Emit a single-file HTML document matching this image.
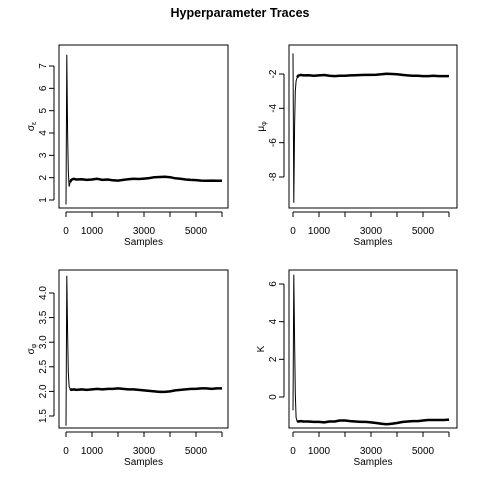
<!DOCTYPE html>
<html><head><meta charset="utf-8"><style>
body{margin:0;background:#fff;}
svg{display:block;font-family:"Liberation Sans",sans-serif;}
</style></head><body>
<svg id="c" width="480" height="480" viewBox="0 0 480 480">
<text x="240" y="17" text-anchor="middle" font-size="12.5" font-weight="bold">Hyperparameter Traces</text>
</svg>
<script>
// data (sample index, value) for each hyperparameter trace
const sampleX = [0,30,60,90,120,160,200,300,400,600,800,1000,1200,1400,1600,1800,2000,2200,2400,2600,2800,3000,3200,3400,3600,3800,4000,4200,4400,4600,4800,5000,5200,5400,5600,5800,6000];
const sigmaEps = [0.8,7.5,4.0,2.3,1.6,1.8,1.9,1.95,1.92,1.93,1.9,1.92,1.95,1.9,1.92,1.88,1.87,1.9,1.93,1.95,1.94,1.96,1.98,2.02,2.03,2.04,2.02,1.97,1.95,1.92,1.9,1.89,1.87,1.86,1.87,1.86,1.86];
const muPhi = [-0.8,-9.5,-5.0,-3.0,-2.4,-2.2,-2.1,-2.05,-2.08,-2.07,-2.1,-2.08,-2.06,-2.1,-2.12,-2.1,-2.1,-2.08,-2.07,-2.06,-2.05,-2.05,-2.04,-2.02,-1.98,-2.0,-2.02,-2.05,-2.08,-2.1,-2.1,-2.12,-2.12,-2.1,-2.12,-2.12,-2.12];
const sigmaPhi = [1.3,4.35,3.2,2.4,2.1,2.05,2.03,2.04,2.03,2.04,2.03,2.04,2.05,2.04,2.05,2.05,2.06,2.05,2.04,2.04,2.03,2.02,2.01,2.0,1.99,1.99,2.0,2.02,2.03,2.04,2.05,2.05,2.06,2.06,2.05,2.06,2.06];
const kappa = [-0.7,6.5,3.0,0.2,-1.1,-1.3,-1.3,-1.28,-1.3,-1.3,-1.32,-1.32,-1.35,-1.3,-1.3,-1.25,-1.25,-1.28,-1.3,-1.32,-1.32,-1.35,-1.38,-1.42,-1.45,-1.42,-1.38,-1.33,-1.3,-1.28,-1.28,-1.25,-1.22,-1.22,-1.22,-1.22,-1.2];
const xTicks = [0,1000,2000,3000,4000,5000,6000];
const xTickLabels = ["0","1000","","3000","","5000",""];
const ticks1 = [1,2,3,4,5,6,7];
const ticks2 = [-8,-6,-4,-2];
const ticks3 = [1.5,2.0,2.5,3.0,3.5,4.0];
const tickLabels3 = ["1.5","2.0","2.5","3.0","3.5","4.0"];
const ticks4 = [0,2,4,6];

const NS="http://www.w3.org/2000/svg";
const svg=document.getElementById('c');
function mk(tag,attrs,parent){const e=document.createElementNS(NS,tag);for(const k in attrs)e.setAttribute(k,attrs[k]);(parent||svg).appendChild(e);return e;}

const panels=[
 {name:'sigma-eps',box:[59,45,228,208],x0:66,x1:222,yv:[1,7],yp:[200,66],vals:sigmaEps,ticks:ticks1,labels:ticks1.map(String),lab:'σ',sub:'ε'},
 {name:'mu-phi',box:[289,45,457,208],x0:293,x1:449,yv:[-8,-2],yp:[177,74],vals:muPhi,ticks:ticks2,labels:ticks2.map(String),lab:'μ',sub:'φ'},
 {name:'sigma-phi',box:[59,270,228,428],x0:66,x1:222,yv:[1.5,4.0],yp:[416,293],vals:sigmaPhi,ticks:ticks3,labels:tickLabels3,lab:'σ',sub:'φ'},
 {name:'kappa',box:[289,270,457,428],x0:293,x1:449,yv:[0,6],yp:[397,284],vals:kappa,ticks:ticks4,labels:ticks4.map(String),lab:'K',sub:''}
];

panels.forEach(p=>{
 const g=mk('g',{});
 
 
 const [l,t,r,b]=p.box;
 const xs=v=>p.x0+(v-0)/6000*(p.x1-p.x0);
 const ys=v=>p.yp[0]+(v-p.yv[0])/(p.yv[1]-p.yv[0])*(p.yp[1]-p.yp[0]);
 let d='';
 sampleX.forEach((x,i)=>{d+=(i?'L':'M')+xs(x).toFixed(1)+','+ys(p.vals[i]).toFixed(1);});
 const early=mk('path',{d:d,fill:'none',stroke:'#000','stroke-width':'1'},g);
 
 
 let d2='';
 sampleX.forEach((x,i)=>{if(i>=5)d2+=(i>5?'L':'M')+xs(x).toFixed(1)+','+ys(p.vals[i]).toFixed(1);});
 const thick=mk('path',{d:d2,fill:'none',stroke:'#000','stroke-width':'2.5','stroke-linejoin':'round'},g);
 
 
 const box=mk('rect',{x:l,y:t,width:r-l,height:b-t,fill:'none',stroke:'#000','stroke-width':'1'},g);
 
 
 // x axis
 mk('line',{x1:xs(0),x2:xs(6000),y1:b+4,y2:b+4,stroke:'#000'},g);
 xTicks.forEach((v,i)=>{
  mk('line',{x1:xs(v),x2:xs(v),y1:b+4,y2:b+9,stroke:'#000'},g);
  if(xTickLabels[i]){const tx=mk('text',{x:xs(v),y:b+26,'text-anchor':'middle','font-size':'10'},g);tx.textContent=xTickLabels[i];
   
   }
 });
 const xl=mk('text',{x:(l+r)/2,y:b+37,'text-anchor':'middle','font-size':'10'},g);
 xl.textContent='Samples';
 
 
 // y axis
 const ya=l-5;
 mk('line',{x1:ya,x2:ya,y1:ys(p.ticks[0]),y2:ys(p.ticks[p.ticks.length-1]),stroke:'#000'},g);
 p.ticks.forEach((v,i)=>{
  const y=ys(v);
  mk('line',{x1:ya-5,x2:ya,y1:y,y2:y,stroke:'#000'},g);
  const tx=mk('text',{x:ya-8,y:y,'text-anchor':'middle','font-size':'10',transform:`rotate(-90 ${ya-8} ${y})`},g);
  tx.textContent=p.labels[i];
  
  
 });
 const cx=l-25, cy=(t+b)/2;
 const yl=mk('text',{x:cx,y:cy,'text-anchor':'middle','font-size':'10',transform:`rotate(-90 ${cx} ${cy})`},g);
 yl.textContent=p.lab;
 if(p.sub){const s=mk('tspan',{'font-size':'7',dy:'2'},yl);s.textContent=p.sub;}
 
 
});
</script>
</body></html>
